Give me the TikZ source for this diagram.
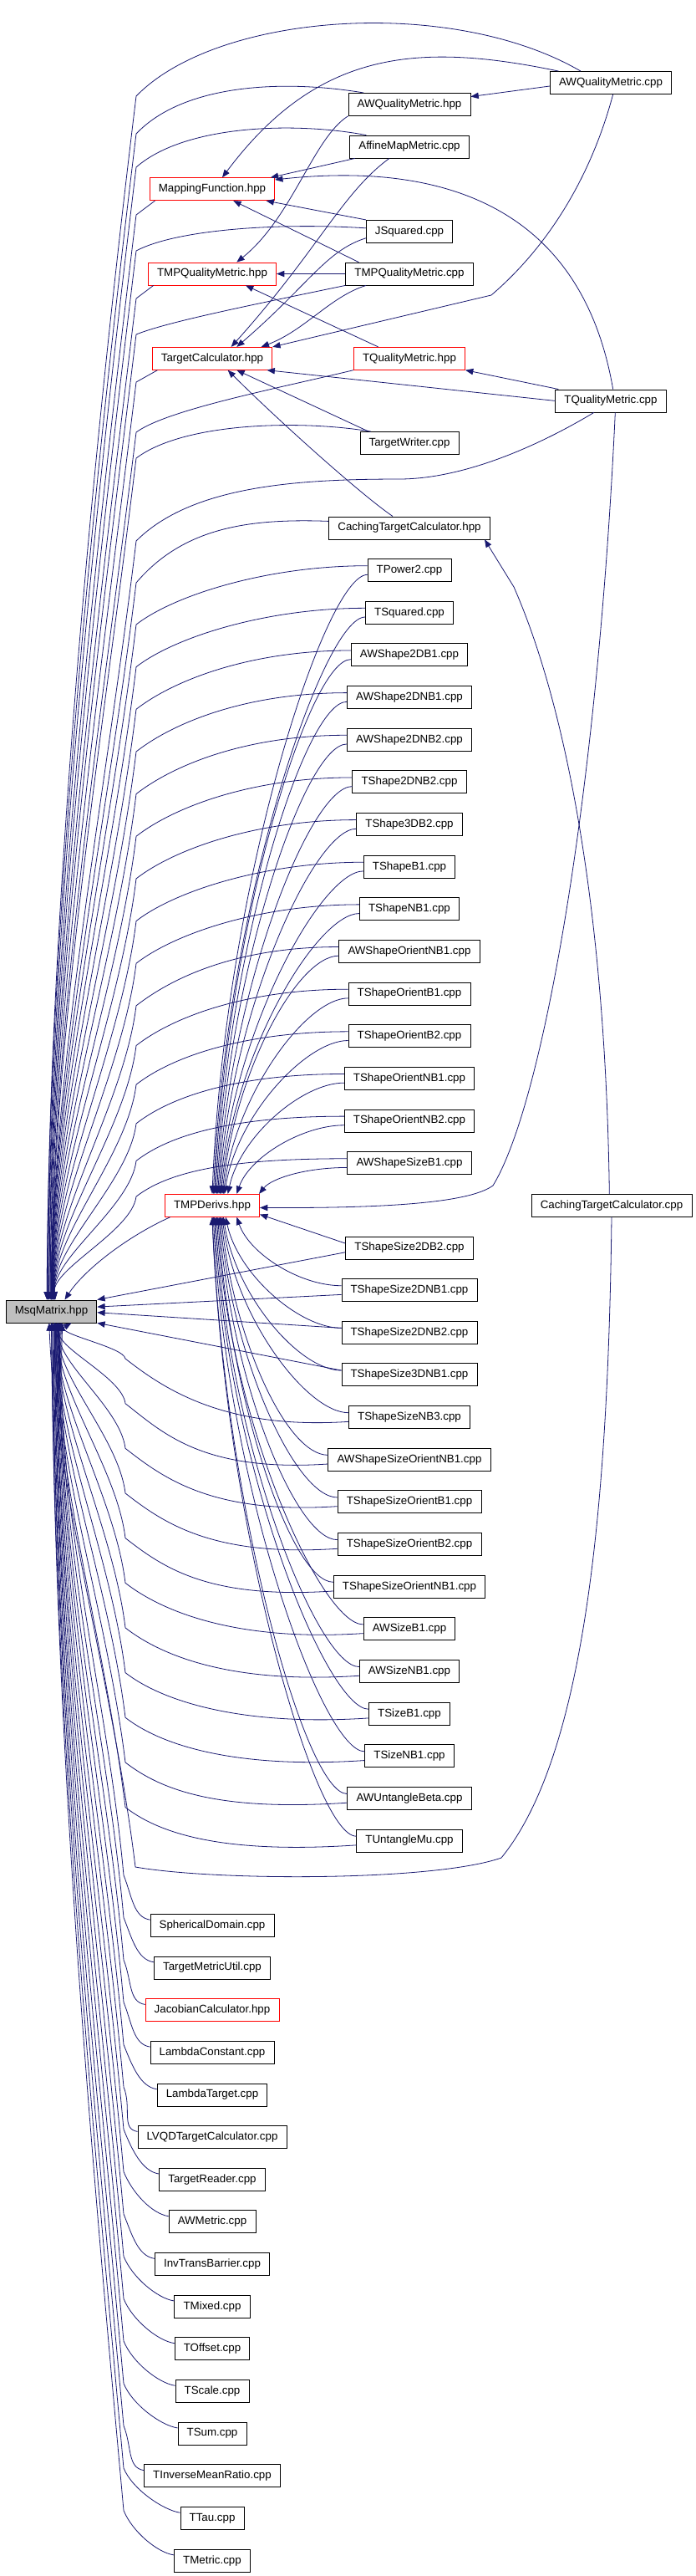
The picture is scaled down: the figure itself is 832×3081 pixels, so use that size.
\documentclass[tikz,border=0pt]{standalone}
\usepackage{fontspec}
\setmainfont{Liberation Sans}
\usepackage{tikz}
\usetikzlibrary{arrows.meta}
\usepackage{xcolor}
\definecolor{edgeBlue}{HTML}{191970}
\definecolor{rootGray}{HTML}{BFBFBF}

\begin{document}
\begin{tikzpicture}[x=0.75pt, y=-0.75pt,
    filebox/.style={draw=black, line width=0.6pt, fill=white, minimum height=20.25pt,
      inner xsep=8pt, inner ysep=0pt, font=\fontsize{10}{12}\selectfont},
    hdrbox/.style={filebox, draw=red},
    rootbox/.style={filebox, fill=rootGray},
    dep/.style={draw=edgeBlue, line width=0.6pt, -{Triangle[length=7pt, width=5.5pt]}}]
        \useasboundingbox (0,0) rectangle (832,3081);
        % Nodos fijos
        \node[rootbox] (MsqMatrix) at (61.5,1568.4) {MsqMatrix.hpp};
        \node[hdrbox] (MappingFunction) at (254,226.2) {MappingFunction.hpp};
        \node[hdrbox] (TMPQualityMetricHpp) at (254,327.5) {TMPQualityMetric.hpp};
        \node[hdrbox] (TargetCalculator) at (254,428.8) {TargetCalculator.hpp};
        \node[hdrbox] (TMPDerivs) at (254,1441.8) {TMPDerivs.hpp};
        \node[filebox] (AWQualityMetricHpp) at (490,124.9) {AWQualityMetric.hpp};
        \node[filebox] (AffineMapMetric) at (490,175.5) {AffineMapMetric.cpp};
        \node[filebox] (JSquared) at (490,276.8) {JSquared.cpp};
        \node[filebox] (TMPQualityMetricCpp) at (490,327.5) {TMPQualityMetric.cpp};
        \node[hdrbox] (TQualityMetricHpp) at (490,428.8) {TQualityMetric.hpp};
        \node[filebox] (TargetWriter) at (490,530) {TargetWriter.cpp};
        \node[filebox] (CachingTCHpp) at (490,631.4) {CachingTargetCalculator.hpp};
        \node[filebox] (AWQualityMetricCpp) at (731,99) {AWQualityMetric.cpp};
        \node[filebox] (TQualityMetricCpp) at (731,479.4) {TQualityMetric.cpp};
        \node[filebox] (CachingTCCpp) at (732,1441.8) {CachingTargetCalculator.cpp};
        % Columna de los .cpp (una fila cada 50.65px)
        \foreach \f/\k in {TPower2/0, TSquared/1, AWShape2DB1/2, AWShape2DNB1/3, AWShape2DNB2/4,
          TShape2DNB2/5, TShape3DB2/6, TShapeB1/7, TShapeNB1/8, AWShapeOrientNB1/9,
          TShapeOrientB1/10, TShapeOrientB2/11, TShapeOrientNB1/12, TShapeOrientNB2/13,
          AWShapeSizeB1/14, TShapeSize2DB2/16, TShapeSize2DNB1/17, TShapeSize2DNB2/18,
          TShapeSize3DNB1/19, TShapeSizeNB3/20, AWShapeSizeOrientNB1/21, TShapeSizeOrientB1/22,
          TShapeSizeOrientB2/23, TShapeSizeOrientNB1/24, AWSizeB1/25, AWSizeNB1/26,
          TSizeB1/27, TSizeNB1/28, AWUntangleBeta/29, TUntangleMu/30} {
          \node[filebox] (\f) at (490,{682+50.65*\k}) {\f.cpp};
        }
        % Aristas de la parte alta
        \draw[dep] ([yshift=-3pt]AWQualityMetricCpp.west) -- ([yshift=7pt]AWQualityMetricHpp.east);
        \draw[dep] ([xshift=8pt]AWQualityMetricCpp.north west) .. controls (500,50) and (380,60) .. ([xshift=9pt]MappingFunction.north);
        \draw[dep] ([xshift=2pt]AWQualityMetricCpp.south) .. controls (705,220) and (650,300) .. (588,353) -- (TargetCalculator.north east);
        \draw[dep] (AWQualityMetricHpp.south west) .. controls (375,165) and (350,260) .. ([xshift=22pt]TMPQualityMetricHpp.north);
        \draw[dep] ([xshift=5pt]AffineMapMetric.south west) -- ([xshift=-4pt]MappingFunction.north east);
        \draw[dep] ([xshift=-18pt]AffineMapMetric.south) .. controls (410,230) and (380,300) .. ([xshift=17pt]TargetCalculator.north);
        \draw[dep] (JSquared.north west) -- ([xshift=-8pt]MappingFunction.south east);
        \draw[dep] ([yshift=-6pt]JSquared.west) .. controls (390,300) and (370,340) .. ([xshift=22pt]TargetCalculator.north);
        \draw[dep] (TMPQualityMetricCpp.west) -- (TMPQualityMetricHpp.east);
        \draw[dep] ([xshift=12pt]TMPQualityMetricCpp.north west) -- ([xshift=19pt]MappingFunction.south);
        \draw[dep] ([xshift=-39pt]TMPQualityMetricCpp.south) .. controls (395,355) and (365,395) .. ([xshift=44pt]TargetCalculator.north);
        \draw[dep] ([xshift=-28pt]TQualityMetricHpp.north) -- ([xshift=30pt]TMPQualityMetricHpp.south);
        \draw[dep] ([xshift=2pt]TQualityMetricCpp.north) .. controls (700,270) and (560,190) .. ([yshift=-2pt]MappingFunction.north east);
        \draw[dep] ([xshift=3pt]TQualityMetricCpp.north west) -- (TQualityMetricHpp.south east);
        \draw[dep] (TQualityMetricCpp.west) -- ([xshift=-5pt]TargetCalculator.south east);
        \draw[dep] ([xshift=4pt]TQualityMetricCpp.south) .. controls (715,950) and (650,1320) .. (590,1418)
          .. controls (560,1440) and (450,1445) .. ([yshift=-2pt]TMPDerivs.east);
        \draw[dep] ([xshift=8pt]TargetWriter.north west) -- ([xshift=22pt]TargetCalculator.south);
        \draw[dep] ([xshift=-15pt]CachingTCHpp.north) .. controls (430,590) and (330,500) .. ([xshift=14pt]TargetCalculator.south);
        \draw[dep] ([xshift=-2pt]CachingTCCpp.north) .. controls (725,1100) and (680,850) .. (615,702) -- ([xshift=-5pt]CachingTCHpp.south east);
        % Hacia MsqMatrix desde arriba
        \draw[dep] ([xshift=-27pt]AWQualityMetricCpp.north) .. controls (540,-5) and (260,15) .. (163,115)
          .. controls (105,590) and (58,1123) .. ([xshift=-4pt]MsqMatrix.north);
        \draw[dep] ([xshift=14pt]AWQualityMetricHpp.north west) .. controls (340,95) and (220,100) .. (163,160)
          .. controls (107,620) and (58,1136) .. ([xshift=-4pt]MsqMatrix.north);
        \draw[dep] ([xshift=15pt]AffineMapMetric.north west) .. controls (350,145) and (220,150) .. (163,200)
          .. controls (109,647) and (58,1148) .. ([xshift=-3pt]MsqMatrix.north);
        \draw[dep] ([xshift=5pt]MappingFunction.south west) -- (163,257)
          .. controls (111,685) and (59,1166) .. ([xshift=-3pt]MsqMatrix.north);
        \draw[dep] ([yshift=3pt]JSquared.west) .. controls (330,266) and (210,275) .. (163,300)
          .. controls (113,714) and (59,1179) .. ([xshift=-2pt]MsqMatrix.north);
        \draw[dep] ([xshift=5pt]TMPQualityMetricHpp.south west) -- (163,357)
          .. controls (115,752) and (60,1196) .. ([xshift=-2pt]MsqMatrix.north);
        \draw[dep] (TMPQualityMetricCpp.south west) .. controls (300,365) and (200,385) .. (163,400)
          .. controls (117,781) and (60,1208) .. ([xshift=-1pt]MsqMatrix.north);
        \draw[dep] ([xshift=5pt]TargetCalculator.south west) -- (163,457)
          .. controls (119,819) and (61,1226) .. ([xshift=-1pt]MsqMatrix.north);
        \draw[dep] (TQualityMetricHpp.south west) .. controls (330,465) and (200,490) .. (163,517)
          .. controls (121,860) and (61,1244) .. (MsqMatrix.north);
        \draw[dep] ([xshift=10pt]TargetWriter.north west) .. controls (360,502) and (220,505) .. (163,548)
          .. controls (123,880) and (62,1253) .. (MsqMatrix.north);
        \draw[dep] ([xshift=-15pt]TQualityMetricCpp.south) .. controls (650,530) and (560,572) .. (480,573)
          .. controls (360,573) and (230,580) .. (163,647)
          .. controls (127,947) and (62,1283) .. (MsqMatrix.north);
        \draw[dep] ([yshift=6pt]CachingTCHpp.west) .. controls (300,620) and (220,630) .. (163,697)
          .. controls (129,980) and (62,1298) .. (MsqMatrix.north);
        \draw[dep] ([xshift=5pt]TMPDerivs.south west) .. controls (150,1480) and (100,1520) .. ([xshift=12pt]MsqMatrix.north);
        % Filas sobre TMPDerivs
        \foreach \f/\k/\ex/\bo in {TPower2/0/0/65, TSquared/1/1/65, AWShape2DB1/2/2/65,
          AWShape2DNB1/3/3/65, AWShape2DNB2/4/4/65, TShape2DNB2/5/5/65, TShape3DB2/6/6/65,
          TShapeB1/7/7/65, TShapeNB1/8/8/65, AWShapeOrientNB1/9/9/65, TShapeOrientB1/10/10/62,
          TShapeOrientB2/11/11/58, TShapeOrientNB1/12/14/54, TShapeOrientNB2/13/22/48,
          AWShapeSizeB1/14/42/40} {
          \pgfmathsetmacro\yy{682+50.65*\k}
          \pgfmathsetmacro\D{1555-\yy-\bo}
          \pgfmathsetmacro\dx{0.25*\k}
          \draw[dep] ([yshift=4pt]\f.west) .. controls +(-120,0) and +(45,-35) .. (163,\yy+\bo)
            .. controls ({163-0.04*\D},{\yy+\bo+0.33*\D}) and (62,{1555-0.3*\D}) .. ([xshift=\dx pt]MsqMatrix.north);
          \draw[dep] ([yshift=-4pt]\f.west) .. controls +(-50,0) and +(15,{-0.5*(1428-\yy)}) .. ([xshift=\ex pt]TMPDerivs.north);
        }
        % Filas bajo TMPDerivs
        \draw[dep] ([yshift=4pt]TShapeSize2DB2.west) -- ([yshift=-8pt]TMPDerivs.east);
        \draw[dep] ([yshift=-4pt]TShapeSize2DB2.west) -- (MsqMatrix.north east);
        \draw[dep] ([yshift=-4pt]TShapeSize2DNB1.west) -- ([yshift=4pt]MsqMatrix.east);
        \draw[dep] ([yshift=4pt]TShapeSize2DNB2.west) -- ([yshift=-1pt]MsqMatrix.east);
        \draw[dep] ([yshift=4pt]TShapeSize3DNB1.west) -- (MsqMatrix.south east);
        \foreach \f/\k/\ex in {TShapeSize2DNB1/17/22, TShapeSize2DNB2/18/12, TShapeSize3DNB1/19/10} {
          \pgfmathsetmacro\yy{682+50.65*\k}
          \draw[dep] ([yshift=4pt]\f.west) .. controls +(-50,0) and +(15,{0.5*(\yy-1456)}) .. ([xshift=\ex pt]TMPDerivs.south);
        }
        \foreach \f/\k/\ex/\dx in {TShapeSizeNB3/20/9/18, AWShapeSizeOrientNB1/21/8/9,
          TShapeSizeOrientB1/22/7/8, TShapeSizeOrientB2/23/6/7, TShapeSizeOrientNB1/24/5/6,
          AWSizeB1/25/4/5, AWSizeNB1/26/3/5, TSizeB1/27/2/4, TSizeNB1/28/1/4,
          AWUntangleBeta/29/0/3, TUntangleMu/30/0/3} {
          \pgfmathsetmacro\yy{682+50.65*\k}
          \pgfmathsetmacro\yb{\yy-70+3*(\k-20)}
          \pgfmathsetmacro\D{\yb-1582}
          \draw[dep] ([yshift=4pt]\f.west) .. controls +(-50,0) and +(15,{0.5*(\yy-1456)}) .. ([xshift=\ex pt]TMPDerivs.south);
          \draw[dep] ([yshift=-4pt]\f.west) .. controls +(-150,10) and +(45,35) .. (150,\yb)
            .. controls ({150-0.04*\D},{\yb-0.33*\D}) and (64,{1582+0.3*\D}) .. ([xshift=\dx pt]MsqMatrix.south);
        }
        \draw[dep] (CachingTCCpp.south) .. controls (728,1800) and (700,2100) .. (600,2222)
          .. controls (520,2250) and (260,2250) .. (162,2233)
          .. controls (136,2018) and (66,1777) .. ([xshift=-2pt]MsqMatrix.south);
        % Lista inferior
        \foreach \f/\e/\k/\sty/\dx in {SphericalDomain/cpp/32/filebox/10, TargetMetricUtil/cpp/33/filebox/9,
          JacobianCalculator/hpp/34/hdrbox/8, LambdaConstant/cpp/35/filebox/8, LambdaTarget/cpp/36/filebox/7,
          LVQDTargetCalculator/cpp/37/filebox/6, TargetReader/cpp/38/filebox/5, AWMetric/cpp/39/filebox/5,
          InvTransBarrier/cpp/40/filebox/4, TMixed/cpp/41/filebox/3, TOffset/cpp/42/filebox/3,
          TScale/cpp/43/filebox/2, TSum/cpp/44/filebox/1, TInverseMeanRatio/cpp/45/filebox/1,
          TTau/cpp/46/filebox/0, TMetric/cpp/47/filebox/0} {
          \pgfmathsetmacro\yy{682+50.65*\k}
          \pgfmathsetmacro\yb{\yy-60}
          \pgfmathsetmacro\D{\yb-1582}
          \node[\sty] (\f) at (254,\yy) {\f.\e};
          \draw[dep] ([yshift=5pt]\f.west) .. controls +(-20,-3) and +(10,25) .. (148,\yb)
            .. controls ({148-0.03*\D},{\yb-0.33*\D}) and (66,{1582+0.35*\D}) .. ([xshift=\dx pt]MsqMatrix.south);
        }
\end{tikzpicture}
\end{document}
